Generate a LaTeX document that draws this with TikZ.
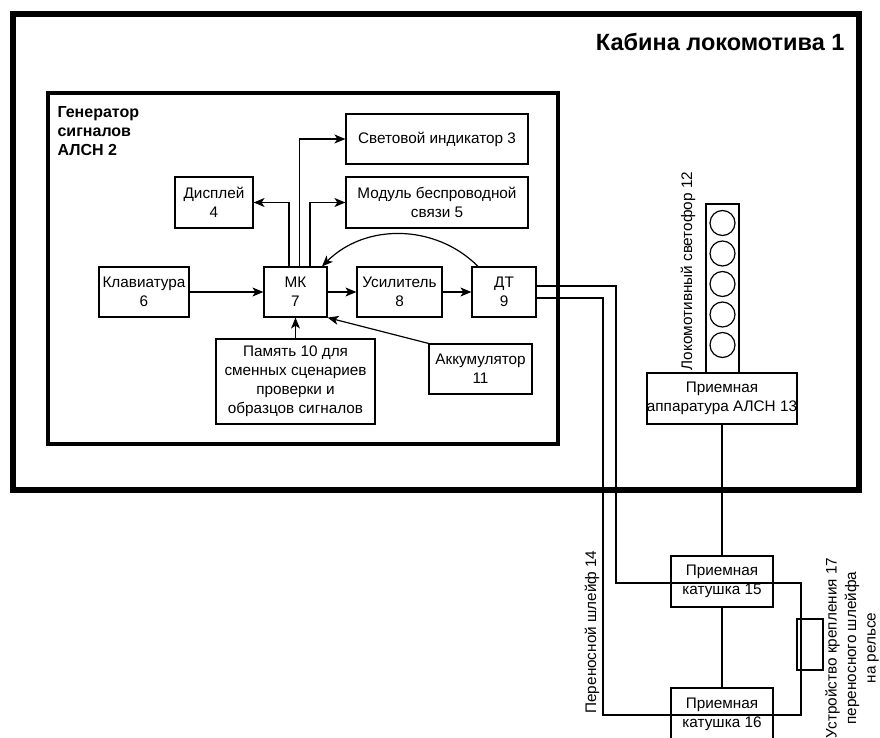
\documentclass[tikz,border=0pt]{standalone}
\usepackage{fontspec}
\setmainfont{Liberation Sans}
\usepackage{tikz}
\usetikzlibrary{arrows.meta}

\begin{document}
\begin{tikzpicture}[x=1pt,y=-1pt,font=\fontsize{15.3}{19}\selectfont]

    \tikzstyle{block} = [rectangle, draw, line width=1.2pt, inner sep=0pt, align=center]
    \tikzstyle{arr}   = [line width=1.2pt, -{Stealth[length=11pt,width=9pt,inset=3pt]}]
    \tikzstyle{wire}  = [line width=1.2pt]
    \tikzstyle{lamp}  = [circle, draw, line width=1.2pt, minimum size=25pt, inner sep=0pt]
    \useasboundingbox (0,0) rectangle (880,738);

    % cabin and generator frames
    \node [draw, line width=6pt, minimum width=846pt, minimum height=476pt, inner sep=0pt] (cab1) at (436,252) {};
    \node [anchor=east, font=\fontsize{23.5}{27}\selectfont\bfseries] (cab1title) at (848,42) {Кабина локомотива 1};
    \node [draw, line width=4pt, minimum width=510pt, minimum height=351pt, inner sep=0pt] (gen2) at (303,268.5) {};
    \node [anchor=north west, align=left, font=\fontsize{16}{19}\selectfont\bfseries] (gen2title) at (54,103) {Генератор\\сигналов\\АЛСН 2};

    % blocks
    \node [block, minimum width=182pt, minimum height=50pt] (svet3) at (437,139) {Световой индикатор 3};
    \node [block, minimum width=182pt, minimum height=51pt] (modul5) at (437,202.5) {Модуль беспроводной\\связи 5};
    \node [block, minimum width=78pt, minimum height=51pt] (disp4) at (214,202.5) {Дисплей\\4};
    \node [block, minimum width=90pt, minimum height=50pt] (klav6) at (144,292) {Клавиатура\\6};
    \node [block, minimum width=63pt, minimum height=50pt] (mk7) at (295.5,292) {МК\\7};
    \node [block, minimum width=85pt, minimum height=50pt] (usil8) at (399.5,292) {Усилитель\\8};
    \node [block, minimum width=64pt, minimum height=50pt] (dt9) at (504,292) {ДТ\\9};
    \node [block, minimum width=159pt, minimum height=85pt] (pam10) at (295.5,381.5) {Память 10 для\\сменных сценариев\\проверки и\\образцов сигналов};
    \node [block, minimum width=103pt, minimum height=50pt] (akk11) at (480.5,369) {Аккумулятор\\11};

    % locomotive signal and receiver
    \node [block, minimum width=33pt, minimum height=169pt] (light12) at (722.5,288.5) {};
    \foreach \i in {0,...,4}
        \node [lamp] (lamp\i) at (722.5,223+30.5*\i) {};
    \node [rotate=90] (light12label) at (688,271) {Локомотивный светофор 12};
    \node [block, minimum width=149pt, minimum height=51pt] (alsn13) at (722,398.5) {Приемная\\аппаратура АЛСН 13};

    \node [block, minimum width=102pt, minimum height=51pt] (kat15) at (722,581.5) {Приемная\\катушка 15};
    \node [block, minimum width=102pt, minimum height=52pt] (kat16) at (722,714) {Приемная\\катушка 16};
    \node [block, minimum width=26pt, minimum height=51pt] (dev17) at (810,644.5) {};
    \node [rotate=90] (loop14label) at (592,632) {Переносной шлейф 14};
    \node [rotate=90, align=center, font=\fontsize{15.3}{19.5}\selectfont] (dev17label) at (852,648) {Устройство крепления 17\\переносного шлейфа\\на рельсе};

    % arrows inside generator
    \draw [arr] (klav6) -- (mk7);
    \draw [arr] (mk7) -- (usil8);
    \draw [arr] (usil8) -- (dt9);
    \draw [arr] ([xshift=-6.5pt]mk7.north) |- (disp4.east);
    \draw [arr] ([xshift=4pt]mk7.north) |- (svet3.west);
    \draw [arr] ([xshift=14.5pt]mk7.north) |- (modul5.west);
    \draw [arr] ([xshift=-26pt]dt9.north) to[bend right=45] ([xshift=26.5pt]mk7.north);
    \draw [arr] (pam10.north) -- (mk7.south);
    \draw [arr] (akk11.north west) -- (mk7.south east);

    % loop wires
    \coordinate (w1) at (616,583);
    \coordinate (w2) at (801,583);
    \coordinate (w3) at (801,715);
    \coordinate (w4) at (603,715);
    \draw [wire] ([yshift=6pt]dt9.east) -| (w1) -- (w2) -- (w3) -- (w4) |- ([yshift=-6pt]dt9.east);
    \draw [wire] (alsn13.south) -- (kat15.north);
    \draw [wire] (kat15.south) -- (kat16.north);

\end{tikzpicture}
\end{document}
